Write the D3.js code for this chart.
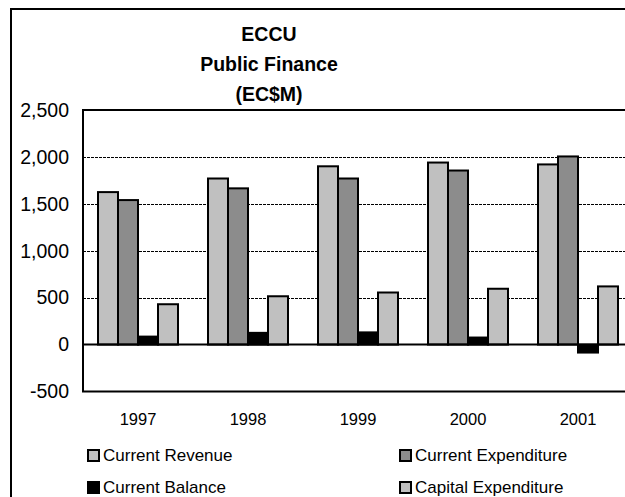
<!DOCTYPE html>
<html>
<head>
<meta charset="utf-8">
<script src="https://cdn.jsdelivr.net/npm/d3@7"></script>
<style>
  body { margin: 0; background: #fff; }
  svg { display: block; }
  text { font-family: "Liberation Sans", Arial, sans-serif; fill: #000; }
</style>
</head>
<body>
<svg id="chart" width="625" height="497"></svg>
<script>
// ECCU public finance, EC$ millions
const years = ["1997", "1998", "1999", "2000", "2001"];
const currentRevenue = [1625, 1770, 1900, 1940, 1920];
const currentExpenditure = [1540, 1665, 1770, 1855, 2005];
const currentBalance = [85, 125, 130, 75, -85];
const capitalExpenditure = [430, 515, 555, 595, 620];
const seriesNames = ["Current Revenue", "Current Expenditure", "Current Balance", "Capital Expenditure"];
const seriesValues = [currentRevenue, currentExpenditure, currentBalance, capitalExpenditure];
const seriesColors = ["#c0c0c0", "#8c8c8c", "#000000", "#c0c0c0"];
const yTicks = [-500, 0, 500, 1000, 1500, 2000, 2500];
const gridTicks = [500, 1000, 1500, 2000];
const titleLines = ["ECCU", "Public Finance", "(EC$M)"];

const svg = d3.select("#chart");

// plot area
const plot = { left: 83, top: 110, right: 633, bottom: 391.5 };

const x = d3.scaleBand()
  .domain(years)
  .range([plot.left, plot.right])
  .paddingInner(30 / 110)
  .paddingOuter(15 / 110);

const xs = d3.scaleBand()
  .domain(seriesNames)
  .range([0, x.bandwidth()]);

const y = d3.scaleLinear()
  .domain([-500, 2500])
  .range([plot.bottom, plot.top]);

// thousands separator with a plain hyphen for negatives
const fmt = d => d3.format(",")(d).replace("\u2212", "-");

// outer chart frame
svg.append("rect")
  .attr("x", 11).attr("y", 9)
  .attr("width", 700).attr("height", 600)
  .attr("fill", "#fff")
  .attr("stroke", "#000").attr("stroke-width", 2);

// title
svg.append("g")
  .selectAll("text")
  .data(titleLines)
  .join("text")
  .attr("x", 269)
  .attr("y", (d, i) => 41 + i * 30)
  .attr("text-anchor", "middle")
  .attr("font-size", 19.5)
  .attr("font-weight", "bold")
  .text(d => d);

// plot background
svg.append("rect")
  .attr("x", plot.left).attr("y", plot.top)
  .attr("width", plot.right - plot.left).attr("height", plot.bottom - plot.top)
  .attr("fill", "#fff");

// dashed gridlines
svg.append("g")
  .selectAll("line")
  .data(gridTicks)
  .join("line")
  .attr("x1", plot.left).attr("x2", plot.right)
  .attr("y1", d => Math.round(y(d)) + 0.5).attr("y2", d => Math.round(y(d)) + 0.5)
  .attr("stroke", "#000")
  .attr("stroke-width", 1)
  .attr("stroke-dasharray", "3,1");

// bars
const groups = svg.append("g")
  .selectAll("g")
  .data(years)
  .join("g")
  .attr("transform", d => `translate(${x(d)},0)`);

groups.selectAll("rect")
  .data((yr, i) => seriesNames.map((name, s) => ({ name, s, value: seriesValues[s][i] })))
  .join("rect")
  .attr("x", d => xs(d.name))
  .attr("width", xs.bandwidth())
  .attr("y", d => y(Math.max(0, d.value)))
  .attr("height", d => Math.abs(y(d.value) - y(0)))
  .attr("fill", d => seriesColors[d.s])
  .attr("stroke", "#000")
  .attr("stroke-width", 2);

// zero line
svg.append("line")
  .attr("x1", plot.left).attr("x2", plot.right)
  .attr("y1", y(0)).attr("y2", y(0))
  .attr("stroke", "#000").attr("stroke-width", 2);

// plot frame
svg.append("rect")
  .attr("x", plot.left).attr("y", plot.top)
  .attr("width", plot.right - plot.left).attr("height", plot.bottom - plot.top)
  .attr("fill", "none")
  .attr("stroke", "#000").attr("stroke-width", 2);

// y axis labels
const yAxis = svg.append("g")
  .attr("transform", `translate(${plot.left},0)`)
  .call(d3.axisLeft(y).tickValues(yTicks).tickSize(0).tickPadding(14).tickFormat(fmt));
yAxis.select(".domain").remove();
yAxis.selectAll("text")
  .attr("font-size", 19.5)
  .attr("font-family", "'Liberation Sans', Arial, sans-serif");

// x axis labels
const xAxis = svg.append("g")
  .attr("transform", `translate(0,${plot.bottom})`)
  .call(d3.axisBottom(x).tickSize(0).tickPadding(22));
xAxis.select(".domain").remove();
xAxis.selectAll("text")
  .attr("font-size", 16.5)
  .attr("font-family", "'Liberation Sans', Arial, sans-serif");

// legend
const legendCols = [87, 399];
const legendRows = [449, 481];
const legend = svg.append("g")
  .selectAll("g")
  .data(seriesNames)
  .join("g")
  .attr("transform", (d, i) => `translate(${legendCols[i % 2]},${legendRows[Math.floor(i / 2)]})`);

legend.append("rect")
  .attr("x", 1).attr("y", 1)
  .attr("width", 11).attr("height", 11)
  .attr("fill", (d, i) => seriesColors[i])
  .attr("stroke", "#000").attr("stroke-width", 2);

legend.append("text")
  .attr("x", 16)
  .attr("y", 12)
  .attr("font-size", 17)
  .text(d => d);
</script>
</body>
</html>
